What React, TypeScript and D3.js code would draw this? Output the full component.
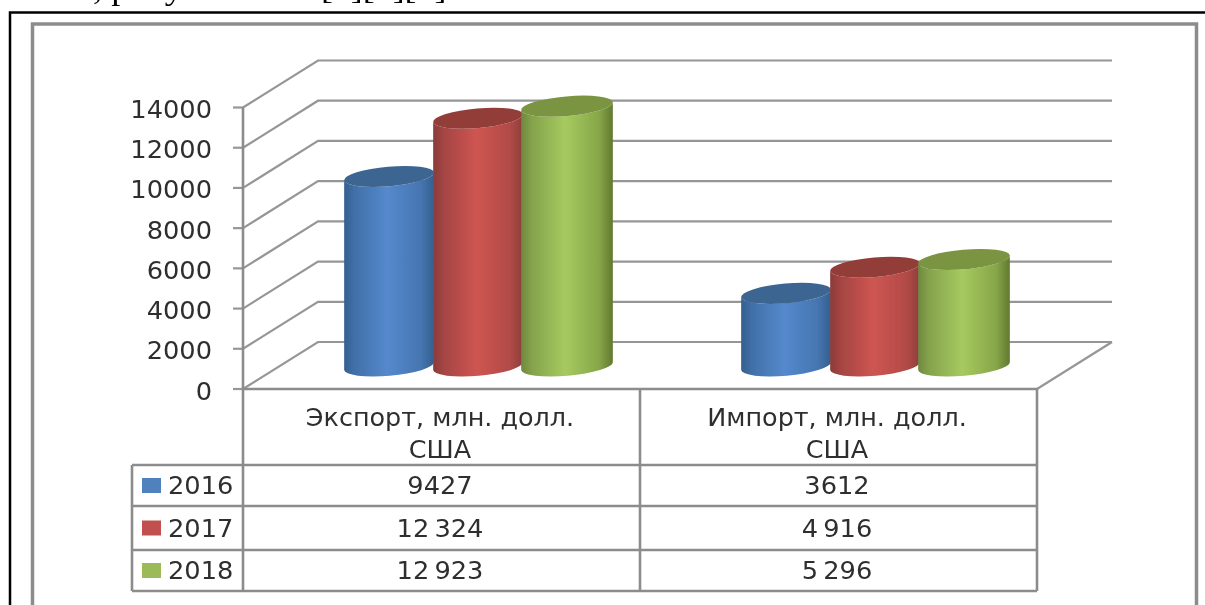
import React from "react";
import * as d3 from "d3";

const categories = ["Экспорт, млн. долл.", "Импорт, млн. долл."];
const categorySecondLine = "США";
const years = ["2016", "2017", "2018"];
const values2016 = [9427, 3612];
const values2017 = [12324, 4916];
const values2018 = [12923, 5296];
const labels2016 = ["9427", "3612"];
const labels2017 = ["12\u2009324", "4\u2009916"];
const labels2018 = ["12\u2009923", "5\u2009296"];
const yTicks = [0, 2000, 4000, 6000, 8000, 10000, 12000, 14000];

const seriesValues = [values2016, values2017, values2018];
const seriesLabels = [labels2016, labels2017, labels2018];
const palette = [
  { edgeL: "#34608f", mid: "#5489cd", edgeR: "#355f8e", top: "#3c6591", swatch: "#4f81bd" },
  { edgeL: "#8a3b39", mid: "#ce5551", edgeR: "#8f3e3b", top: "#933c39", swatch: "#c0504d" },
  { edgeL: "#6f893f", mid: "#a6ca5f", edgeR: "#62792f", top: "#7a9443", swatch: "#9bbb59" },
];

const GRID = "#969696";
const TEXT = "#2e2e2e";
const FONT = "'DejaVu Sans', sans-serif";

const DX = 75; // depth offset of the back wall
const DY = -47;
const front = { left: 243, right: 1037, bottom: 389, top: 107.5 };
const y = d3.scaleLinear().domain([0, 14000]).range([front.bottom, front.top]);
const xCat = d3.scaleBand<string>().domain(categories).range([front.left, front.right]);
const barStep = 89;
const xSub = d3
  .scaleBand<string>()
  .domain(years)
  .range([-barStep * 1.5, barStep * 1.5]);

const tilt = (5 * Math.PI) / 180;
const ry = 9.8;
const baseLift = 23;
const centerShift = 36.5;
const tableRows = [465, 506, 550, 591];
const tableLeft = 132;

function Txt({ x, y: yy, anchor = "middle", sx = 1.07, size = 24, children }: any) {
  return (
    <text
      transform={`translate(${x},${yy}) scale(${sx},1)`}
      textAnchor={anchor}
      fontFamily={FONT}
      fontSize={size}
      fill={TEXT}
    >
      {children}
    </text>
  );
}

function Cylinder({ cx, value, i, rx }: any) {
  const baseY = y(0) - baseLift;
  const topY = y(value) - baseLift;
  const dx = rx * Math.cos(tilt);
  const dy = rx * Math.sin(tilt);
  const deg = -(tilt * 180) / Math.PI;
  const body =
    `M${cx - dx},${topY + dy} L${cx - dx},${baseY + dy} ` +
    `A${rx},${ry} ${deg} 0 0 ${cx + dx},${baseY - dy} L${cx + dx},${topY - dy} ` +
    `A${rx},${ry} ${deg} 0 1 ${cx - dx},${topY + dy} Z`;
  return (
    <g>
      <path d={body} fill={`url(#cyl${i})`} />
      <ellipse
        cx={cx}
        cy={topY}
        rx={rx}
        ry={ry}
        transform={`rotate(${deg} ${cx} ${topY})`}
        fill={palette[i].top}
      />
    </g>
  );
}

export default function App() {
  return (
    <svg
      width={1205}
      height={605}
      style={{ position: "absolute", left: 0, top: 0, display: "block", background: "#fff" }}
    >
      <defs>
        <filter id="soft" x="-2%" y="-2%" width="104%" height="104%">
          <feGaussianBlur stdDeviation="0.6" />
        </filter>
        {palette.map((p, i) => (
          <linearGradient id={`cyl${i}`} key={i} x1="0" x2="1" y1="0" y2="0">
            <stop offset="0" stopColor={p.edgeL} />
            <stop offset="0.12" stopColor={d3.interpolateRgb(p.edgeL, p.mid)(0.4)} />
            <stop offset="0.48" stopColor={p.mid} />
            <stop offset="0.85" stopColor={d3.interpolateRgb(p.edgeR, p.mid)(0.55)} />
            <stop offset="1" stopColor={p.edgeR} />
          </linearGradient>
        ))}
      </defs>
      <g filter="url(#soft)">
        {/* clipped line of the surrounding document */}
        <g fontFamily="'Liberation Serif', serif" fontSize={32} fill="#000">
          <text transform="translate(93,-1) scale(1.14,1)">, рисунок</text>
          <text transform="translate(321,-1) scale(1.12,1)">[1][2][3]</text>
        </g>

        {/* page and chart frames */}
        <path d="M10,605 V12.5 H1205" fill="none" stroke="#000" strokeWidth={2.5} />
        <path d="M32.5,605 V24 H1196.5 V605" fill="none" stroke="#8c8c8c" strokeWidth={3.5} />

        {/* walls */}
        {yTicks.map((t) => (
          <path
            key={t}
            d={`M${front.left},${y(t)} L${front.left + DX},${y(t) + DY} H${front.right + DX}`}
            fill="none"
            stroke={GRID}
            strokeWidth={2.2}
          />
        ))}
        <path
          d={`M${front.right},${y(0)} L${front.right + DX},${y(0) + DY}`}
          stroke={GRID}
          strokeWidth={2.2}
        />

        {/* value axis */}
        {yTicks.map((t) => (
          <g key={t}>
            <line x1={front.left - 10} x2={front.left} y1={y(t)} y2={y(t)} stroke={GRID} strokeWidth={2.2} />
            <Txt x={212} y={y(t) + 10.5} anchor="end">
              {t}
            </Txt>
          </g>
        ))}

        {/* cylinders */}
        {categories.map((c) =>
          years.map((yr, i) => (
            <Cylinder
              key={c + yr}
              cx={
                (xCat(c) as number) +
                xCat.bandwidth() / 2 +
                centerShift +
                (xSub(yr) as number) +
                xSub.bandwidth() / 2
              }
              value={seriesValues[i][categories.indexOf(c)]}
              i={i}
              rx={i === 2 ? 46 : 45}
            />
          ))
        )}

        {/* data table */}
        <g fill="none" stroke="#8c8c8c" strokeWidth={2.6}>
          <path d={`M${front.left},${y(14000)} V${tableRows[3]}`} />
          <path d={`M${front.left},${y(0)} H${front.right} V${tableRows[3]}`} />
          <path d={`M${xCat(categories[1])},${y(0)} V${tableRows[3]}`} />
          {tableRows.map((r) => (
            <path key={r} d={`M${tableLeft},${r} H${front.right}`} />
          ))}
          <path d={`M${tableLeft},${tableRows[0]} V${tableRows[3]}`} />
        </g>

        {categories.map((c) => {
          const cx = (xCat(c) as number) + xCat.bandwidth() / 2 - 1.5;
          return (
            <g key={c}>
              <Txt x={cx} y={426} sx={1.06}>
                {c}
              </Txt>
              <Txt x={cx} y={458} sx={1.06}>
                {categorySecondLine}
              </Txt>
            </g>
          );
        })}

        {years.map((yr, i) => {
          const mid = (tableRows[i] + tableRows[i + 1]) / 2;
          return (
            <g key={yr}>
              <rect x={142} y={mid - 7.5} width={19} height={15} fill={palette[i].swatch} />
              <Txt x={168} y={mid + 8.5} anchor="start">
                {yr}
              </Txt>
              {categories.map((c, j) => (
                <Txt key={c} x={(xCat(c) as number) + xCat.bandwidth() / 2 - 1.5} y={mid + 8.5}>
                  {seriesLabels[i][j]}
                </Txt>
              ))}
            </g>
          );
        })}
      </g>
    </svg>
  );
}
